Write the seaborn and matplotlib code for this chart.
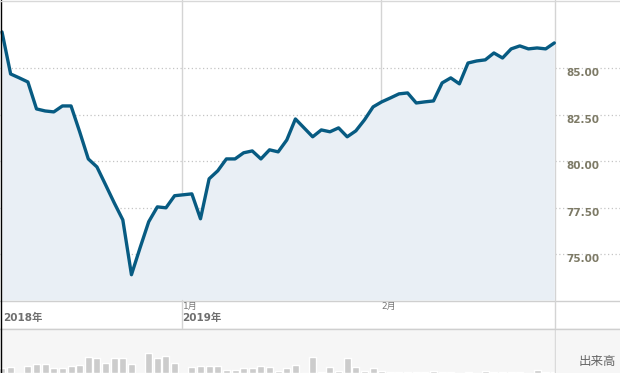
import numpy as np
import pandas as pd
import matplotlib
matplotlib.use("Agg")
import matplotlib.pyplot as plt
import seaborn as sns

# daily closing prices (Dec 2018 - Feb 2019)
price = [86.95, 84.69, 84.48, 84.26, 82.81, 82.70, 82.65, 82.97, 82.97, 81.58,
         80.12, 79.69, 78.73, 77.76, 76.84, 73.89, 75.34, 76.74, 77.54, 77.49,
         78.14, 78.19, 78.24, 76.90, 79.05, 79.48, 80.12, 80.12, 80.45, 80.55,
         80.12, 80.61, 80.50, 81.14, 82.27, 81.79, 81.31, 81.68, 81.58, 81.79,
         81.31, 81.63, 82.22, 82.92, 83.19, 83.40, 83.62, 83.67, 83.13, 83.19,
         83.24, 84.21, 84.48, 84.16, 85.28, 85.39, 85.45, 85.82, 85.55, 86.04,
         86.20, 86.04, 86.09, 86.04, 86.36]
volume = [5, 6, 0, 7, 9, 9, 5, 5, 7, 8,
          16, 15, 10, 15, 15, 9, 0, 20, 15, 17,
          10, 0, 6, 7, 7, 7, 3, 3, 5, 5,
          7, 6, 2, 5, 8, 0, 16, 1, 6, 2,
          15, 6, 2, 5, 2, 1, 1, 1, 1, 1,
          2, 1, 1, 0, 1, 0, 2, 1, 1, 1,
          1, 0, 3, 1, 1]
y_ticks = [75.0, 77.5, 80.0, 82.5, 85.0]
month_pos = [20.8, 43.9]
month_labels = ["1月", "2月"]
year_labels = ["2018年", "2019年"]

df = pd.DataFrame({"day": np.arange(len(price)), "price": price, "volume": volume})

sns.set_style("white")
plt.rcParams["font.family"] = ["DejaVu Sans", "Noto Sans CJK JP"]

W, H = 620, 373
fig = plt.figure(figsize=(6.2, 3.73), dpi=100)
step = 8.63
x0 = -2 / step

# main price panel
ax = fig.add_axes([0, 1 - 300 / H, 1, 300 / H])
ax.set_xlim(x0, x0 + W / step)
ax.set_ylim(72.53, 88.67)
for v in y_ticks:
    ax.axhline(v, color="#c4c4c4", lw=0.9, ls=(0, (1, 2)), zorder=0)
    ax.text(0.94, v, f"{v:.2f}", transform=ax.get_yaxis_transform(),
            ha="center", va="top", fontsize=7.5, fontweight="bold",
            color="#7d7a66")
for m in month_pos:
    ax.axvline(m, color="#d4d4d4", lw=1, zorder=0)
ax.axvline(x0 + 555 / step, color="#d4d4d4", lw=1, zorder=0)
ax.fill_between(df["day"], df["price"], 72.53, color="#e9eff5", lw=0, zorder=1)
sns.lineplot(data=df, x="day", y="price", ax=ax, color="#075b82", lw=2.4, zorder=3)
ax.set_xticks([])
ax.set_yticks([])
ax.set_xlabel("")
ax.set_ylabel("")
for s in ax.spines.values():
    s.set_visible(False)

# volume panel
axv = fig.add_axes([0, 0, 1, 45 / H])
axv.set_facecolor("#f6f6f6")
sns.barplot(data=df, x="day", y="volume", ax=axv, color="#cccccc",
            saturation=1, width=0.81, native_scale=True)
axv.set_xlim(x0, x0 + W / step)
axv.set_ylim(0, 45)
axv.axvline(x0 + 555 / step, color="#d4d4d4", lw=1)
axv.fill_betweenx([0, 45], x0 + 555.5 / step, x0 + W / step, color="#f6f6f6", zorder=5)
axv.set_xticks([])
axv.set_yticks([])
axv.set_xlabel("")
axv.set_ylabel("")
for s in axv.spines.values():
    s.set_visible(False)
fig.text(597 / W, 1 - 361 / H, "出来高", ha="center", va="center",
         fontsize=9, color="#666666", family=["Noto Sans CJK JP", "DejaVu Sans"])

# date strip between panels
def fy(py):
    return 1 - py / H

fig.add_artist(plt.Line2D([0, 1], [fy(300.5), fy(300.5)], color="#cfcfcf", lw=1))
fig.add_artist(plt.Line2D([0, 1], [fy(328.5), fy(328.5)], color="#cfcfcf", lw=1))
jan_px = 2 + month_pos[0] * step
fig.add_artist(plt.Line2D([jan_px / W] * 2, [fy(300), fy(328)], color="#d4d4d4", lw=1))
fig.add_artist(plt.Line2D([555 / W] * 2, [fy(300), fy(328)], color="#d4d4d4", lw=1))
fig.add_artist(plt.Line2D([0.5 / W] * 2, [0, 1], color="#000000", lw=1))
fig.add_artist(plt.Line2D([0, 1], [fy(0.5), fy(0.5)], color="#d8d8d8", lw=1))

for m, lab in zip(month_pos, month_labels):
    fig.text((3 + m * step) / W, fy(306), lab, ha="left", va="center",
             fontsize=6.5, color="#777777")
fig.text(3 / W, fy(318), year_labels[0], ha="left", va="center",
         fontsize=7.5, fontweight="bold", color="#6f6f6f")
fig.text((3 + month_pos[0] * step) / W, fy(318), year_labels[1], ha="left",
         va="center", fontsize=7.5, fontweight="bold", color="#6f6f6f")

fig.savefig("out.png", dpi=100)
